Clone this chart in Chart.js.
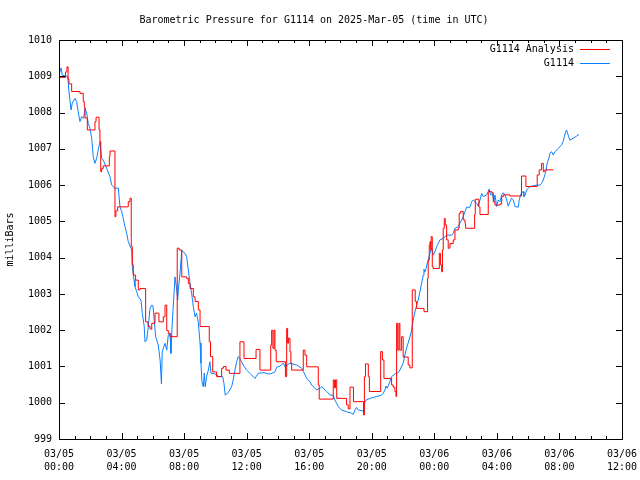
<!DOCTYPE html>
<html>
<head>
<meta charset="utf-8">
<script src="https://cdn.jsdelivr.net/npm/chart.js@4"></script>
<style>
  body { margin: 0; background: #fff; }
</style>
</head>
<body>
<canvas id="myChart" width="640" height="480"></canvas>
<script>
// hours since 03/05 00:00 UTC
const tickDates = ['03/05', '03/05', '03/05', '03/05', '03/05', '03/05', '03/06', '03/06', '03/06', '03/06']
const tickTimes = ['00:00', '04:00', '08:00', '12:00', '16:00', '20:00', '00:00', '04:00', '08:00', '12:00']

const obsHours = [0.00, 0.13, 0.21, 0.56, 0.64, 0.77, 0.85, 1.02, 1.13, 1.23, 1.34, 1.45, 1.58, 1.66, 1.77, 1.87, 1.98, 2.09, 2.19, 2.30,
  2.41, 2.51, 2.62, 2.73, 2.83, 3.05, 3.26, 3.37, 3.58, 3.79, 3.90, 4.01, 4.11, 4.22, 4.33, 4.43, 4.65, 4.69, 4.80, 4.86,
  4.97, 5.07, 5.24, 5.33, 5.45, 5.50, 5.61, 5.71, 5.82, 5.93, 6.01, 6.09, 6.18, 6.35, 6.47, 6.55, 6.60, 6.78, 6.89, 6.99, 7.10,
  7.16, 7.24, 7.33, 7.42, 7.53, 7.59, 7.63, 7.74, 7.85, 7.95, 8.06, 8.16, 8.27, 8.38, 8.48, 8.59, 8.70, 8.80, 8.91, 9.02,
  9.08, 9.14, 9.23, 9.29, 9.35, 9.44, 9.55, 9.65, 9.72, 9.91, 10.23, 10.47, 10.55, 10.63, 10.82, 11.04, 11.14, 11.25, 11.36, 11.46,
  11.57, 11.78, 12.00, 12.21, 12.53, 12.74, 13.06, 13.28, 13.49, 13.81, 13.92, 14.13, 14.34, 14.45, 14.77, 15.20, 15.52, 15.62, 15.84, 16.05,
  16.16, 16.48, 16.69, 16.80, 17.12, 17.33, 17.54, 17.65, 17.76, 17.86, 18.08, 18.40, 18.71, 18.82, 18.93, 19.03, 19.14, 19.46, 19.52, 19.63,
  19.88, 20.31, 20.63, 20.74, 20.84, 20.91, 20.99, 21.16, 21.27, 21.48, 21.69, 21.80, 22.01, 22.12, 22.23, 22.33, 22.44, 22.55, 22.65, 22.76,
  22.87, 22.97, 23.08, 23.19, 23.29, 23.34, 23.40, 23.47, 23.55, 23.61, 23.72, 23.83, 23.93, 24.04, 24.15, 24.25, 24.36, 24.57, 24.79, 25.11,
  25.21, 25.32, 25.53, 25.64, 25.75, 25.85, 25.96, 26.07, 26.28, 26.39, 26.49, 26.71, 26.81, 26.92, 27.03, 27.13, 27.35, 27.45, 27.51, 27.60,
  27.71, 27.81, 27.88, 27.99, 28.09, 28.20, 28.31, 28.41, 28.52, 28.63, 28.73, 28.84, 28.94, 29.05, 29.16, 29.37, 29.43, 29.52, 29.58, 29.69,
  29.73, 29.81, 29.90, 30.12, 30.54, 30.75, 30.86, 30.97, 31.07, 31.14, 31.18, 31.25, 31.33, 31.39, 31.50, 31.61, 31.71, 31.93, 32.14, 32.24,
  32.31, 32.40, 32.46, 32.56, 32.67, 32.88, 33.10, 33.25]
const obsValues = [1009.03, 1009.23, 1009.03, 1008.99, 1008.57, 1008.07, 1008.26, 1008.39, 1008.30, 1008.02, 1007.75, 1007.89, 1007.84, 1008.12, 1007.98, 1007.70, 1007.57, 1007.29, 1006.78, 1006.60,
  1006.74, 1006.97, 1007.20, 1006.74, 1006.69, 1006.46, 1006.23, 1006.00, 1005.91, 1005.92, 1005.40, 1005.27, 1005.08, 1004.85, 1004.67, 1004.44, 1004.21, 1003.75, 1003.38, 1003.20,
  1003.06, 1002.92, 1002.83, 1002.46, 1002.10, 1001.68, 1001.73, 1002.10, 1002.60, 1002.69, 1002.67, 1002.28, 1001.82, 1001.59, 1001.15, 1000.52, 1001.40, 1001.64, 1001.45, 1001.87, 1001.91,
  1001.36, 1002.19, 1002.83, 1003.47, 1003.11, 1002.83, 1003.11, 1003.57, 1004.21, 1004.15, 1004.12, 1004.03, 1003.66, 1003.29, 1003.02, 1002.65, 1002.37, 1002.47, 1002.20, 1001.65,
  1001.09, 1000.58, 1000.44, 1000.82, 1000.44, 1000.72, 1000.90, 1001.13, 1000.81, 1000.81, 1000.72, 1000.72, 1000.53, 1000.21, 1000.28, 1000.44, 1000.63, 1000.90, 1001.13, 1001.27,
  1001.22, 1001.04, 1000.90, 1000.81, 1000.67, 1000.81, 1000.83, 1000.81, 1000.79, 1000.85, 1000.98, 1001.01, 1001.09, 1000.99, 1001.09, 1001.04, 1000.95, 1000.87, 1000.67, 1000.58,
  1000.49, 1000.35, 1000.40, 1000.44, 1000.31, 1000.21, 1000.21, 1000.07, 999.98, 999.89, 999.80, 999.75, 999.71, 999.68, 999.80, 999.87, 999.80, 999.77, 999.98, 1000.07,
  1000.12, 1000.17, 1000.21, 1000.26, 1000.35, 1000.46, 1000.40, 1000.58, 1000.72, 1000.79, 1000.83, 1000.90, 1001.09, 1001.32, 1001.51, 1001.65, 1001.81, 1002.00, 1002.28, 1002.50,
  1002.69, 1002.83, 1003.06, 1003.29, 1003.52, 1003.68, 1003.60, 1003.70, 1003.84, 1003.93, 1004.12, 1004.26, 1004.07, 1004.16, 1004.30, 1004.39, 1004.49, 1004.53, 1004.62, 1004.62,
  1004.67, 1004.81, 1004.85, 1004.95, 1005.04, 1005.13, 1005.27, 1005.39, 1005.39, 1005.54, 1005.59, 1005.50, 1005.42, 1005.59, 1005.77, 1005.68, 1005.73, 1005.82, 1005.89, 1005.73,
  1005.77, 1005.54, 1005.73, 1005.41, 1005.59, 1005.54, 1005.73, 1005.79, 1005.73, 1005.59, 1005.42, 1005.54, 1005.64, 1005.59, 1005.41, 1005.39, 1005.59, 1005.73, 1005.79, 1005.82,
  1005.68, 1005.73, 1005.86, 1005.96, 1006.00, 1006.00, 1006.05, 1006.14, 1006.28, 1006.37, 1006.51, 1006.65, 1006.74, 1006.88, 1006.92, 1006.83, 1006.92, 1007.01, 1007.11, 1007.20,
  1007.33, 1007.47, 1007.52, 1007.38, 1007.24, 1007.29, 1007.35, 1007.40]

const anaHours = [0.00, 0.42, 0.51, 0.58, 0.64, 0.81, 1.34, 1.55, 1.62, 1.66, 1.81, 2.30, 2.37, 2.56, 2.62, 2.67, 2.73, 2.83, 3.22, 3.26,
  3.58, 3.64, 3.75, 4.43, 4.54, 4.62, 4.69, 4.75, 4.90, 5.07, 5.18, 5.54, 5.69, 5.82, 5.93, 6.14, 6.39, 6.67, 6.78, 6.89,
  6.99, 7.10, 7.56, 7.69, 7.85, 8.16, 8.27, 8.38, 8.59, 8.70, 8.91, 9.02, 9.61, 9.69, 9.83, 10.08, 10.40, 10.51, 10.68, 10.89,
  11.57, 11.83, 12.60, 12.85, 13.54, 13.60, 13.68, 13.75, 13.81, 13.89, 14.48, 14.56, 14.62, 14.67, 14.77, 14.83, 14.88, 15.62, 15.73, 15.84,
  16.58, 16.64, 17.54, 17.61, 17.68, 17.76, 18.39, 18.50, 18.61, 18.83, 19.48, 19.53, 19.60, 19.78, 19.85, 20.57, 20.68, 20.78, 21.27, 21.37,
  21.48, 21.55, 21.59, 21.66, 21.74, 21.80, 21.91, 22.01, 22.33, 22.44, 22.59, 22.78, 22.87, 23.34, 23.57, 23.61, 23.68, 23.72, 23.77, 23.80,
  23.87, 23.93, 24.32, 24.39, 24.47, 24.52, 24.57, 24.64, 24.70, 24.79, 24.89, 25.00, 25.21, 25.32, 25.53, 25.59, 25.68, 25.85, 25.96, 26.00,
  26.58, 26.62, 26.85, 26.92, 27.45, 27.67, 27.77, 27.88, 28.20, 28.31, 28.41, 28.84, 29.58, 29.86, 30.58, 30.71, 30.86, 30.97, 31.07, 31.61]
const anaValues = [1008.97, 1009.12, 1009.26, 1008.92, 1008.79, 1008.58, 1008.53, 1008.30, 1008.15, 1007.85, 1007.52, 1007.75, 1007.87, 1007.52, 1007.20, 1006.37, 1006.46, 1006.53, 1006.78, 1006.94,
  1005.13, 1005.29, 1005.40, 1005.54, 1005.64, 1004.30, 1003.80, 1003.52, 1003.38, 1003.11, 1003.15, 1002.23, 1002.11, 1002.03, 1002.19, 1002.47, 1002.23, 1002.37, 1002.69, 1001.99,
  1001.91, 1001.82, 1004.26, 1004.21, 1003.47, 1003.43, 1003.29, 1003.15, 1002.92, 1002.79, 1002.56, 1002.10, 1001.68, 1001.27, 1000.85, 1000.72, 1000.95, 1001.00, 1000.90, 1000.81,
  1001.68, 1001.22, 1001.47, 1000.90, 1001.59, 1002.00, 1001.50, 1002.00, 1001.45, 1001.13, 1000.72, 1002.05, 1001.64, 1001.78, 1001.41, 1001.09, 1000.90, 1001.45, 1001.31, 1000.99,
  1000.49, 1000.10, 1000.63, 1000.41, 1000.63, 1000.12, 999.94, 999.83, 1000.43, 1000.03, 999.66, 1000.72, 1001.07, 1000.72, 1000.31, 1001.41, 1001.18, 1000.67, 1000.49, 1000.43,
  1000.31, 1000.17, 1002.19, 1001.45, 1002.19, 1001.45, 1001.82, 1001.26, 1001.04, 1000.96, 1003.11, 1002.79, 1002.60, 1002.51, 1003.43, 1003.93, 1004.35, 1004.44, 1004.21, 1004.58,
  1003.75, 1003.70, 1004.12, 1003.80, 1003.61, 1004.21, 1004.81, 1005.08, 1004.90, 1004.49, 1004.26, 1004.39, 1004.49, 1004.76, 1004.81, 1005.22, 1005.27, 1005.04, 1004.95, 1004.81,
  1005.19, 1005.61, 1005.40, 1005.19, 1005.82, 1005.79, 1005.54, 1005.45, 1005.48, 1005.68, 1005.73, 1005.70, 1006.25, 1005.96, 1006.28, 1006.42, 1006.60, 1006.37, 1006.42, 1006.42]

const mono = "'DejaVu Sans Mono', monospace"

const toPoints = (xs, ys) => xs.map((x, i) => ({ x: x, y: ys[i] }))

// border, inward tics on all four sides, legend with text left of the sample line
const gnuplotFrame = {
  id: 'gnuplotFrame',
  afterDatasetsDraw(chart) {
    const ctx = chart.ctx
    const a = chart.chartArea
    const xs = chart.scales.x
    const ys = chart.scales.y
    ctx.save()
    ctx.strokeStyle = '#000'
    ctx.lineWidth = 1
    ctx.strokeRect(Math.round(a.left) + 0.5, Math.round(a.top) + 0.5, Math.round(a.right - a.left), Math.round(a.bottom - a.top))
    ctx.beginPath()
    for (let h = 0; h <= 36; h++) {
      const px = Math.round(xs.getPixelForValue(h)) + 0.5
      const len = h % 4 === 0 ? 6 : 3
      ctx.moveTo(px, a.bottom); ctx.lineTo(px, a.bottom - len)
      ctx.moveTo(px, a.top); ctx.lineTo(px, a.top + len)
    }
    for (let v = 999; v <= 1010; v++) {
      const py = Math.round(ys.getPixelForValue(v)) + 0.5
      ctx.moveTo(a.left, py); ctx.lineTo(a.left + 6, py)
      ctx.moveTo(a.right, py); ctx.lineTo(a.right - 6, py)
    }
    ctx.stroke()

    ctx.font = '10px ' + mono
    ctx.textAlign = 'right'
    ctx.textBaseline = 'middle'
    chart.data.datasets.forEach((ds, i) => {
      const y = a.top + 9 + i * 14
      ctx.fillStyle = '#000'
      ctx.fillText(ds.label, a.right - 48, y)
      ctx.strokeStyle = ds.borderColor
      ctx.beginPath()
      ctx.moveTo(a.right - 42, y + 0.5)
      ctx.lineTo(a.right - 12, y + 0.5)
      ctx.stroke()
    })
    ctx.restore()
  }
}

new Chart(document.getElementById('myChart'), {
  type: 'line',
  data: {
    datasets: [{
      label: 'G1114 Analysis',
      data: toPoints(anaHours, anaValues),
      borderColor: '#ff0000',
      borderWidth: 1,
      pointRadius: 0,
      stepped: true
    }, {
      label: 'G1114',
      data: toPoints(obsHours, obsValues),
      borderColor: '#0a80ff',
      borderWidth: 1,
      pointRadius: 0
    }]
  },
  options: {
    responsive: false,
    animation: false,
    layout: { padding: { right: 12 } },
    plugins: {
      legend: { display: false },
      tooltip: { enabled: false },
      title: {
        display: true,
        text: 'Barometric Pressure for G1114 on 2025-Mar-05 (time in UTC)',
        color: '#000',
        font: { family: mono, size: 10, weight: 'normal' },
        padding: { top: 14, bottom: 14 }
      }
    },
    scales: {
      x: {
        type: 'linear',
        min: 0,
        max: 36,
        grid: { display: false, drawTicks: true, tickLength: 6 },
        border: { display: false },
        afterFit(scale) { scale.height = 41 },
        ticks: {
          stepSize: 4,
          autoSkip: false,
          maxRotation: 0,
          padding: 3,
          color: '#000',
          font: { family: mono, size: 10, lineHeight: 1.3 },
          callback: v => [tickDates[v / 4], tickTimes[v / 4]]
        }
      },
      y: {
        min: 999,
        max: 1010,
        grid: { display: false, drawTicks: false },
        border: { display: false },
        afterFit(scale) { scale.width = 59 },
        title: {
          display: true,
          text: 'milliBars',
          color: '#000',
          font: { family: mono, size: 10 },
          padding: { top: 4, bottom: 0 }
        },
        ticks: {
          stepSize: 1,
          padding: 7,
          color: '#000',
          font: { family: mono, size: 10 },
          callback: v => String(v)
        }
      }
    }
  },
  plugins: [gnuplotFrame]
})
</script>
</body>
</html>
